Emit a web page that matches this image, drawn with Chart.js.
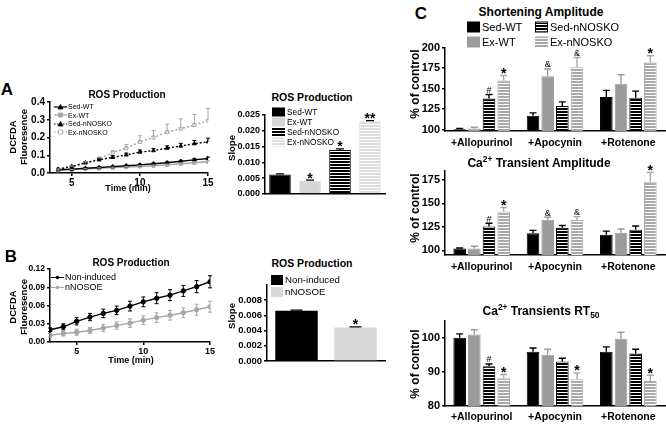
<!DOCTYPE html>
<html>
<head>
<meta charset="utf-8">
<script src="https://cdn.jsdelivr.net/npm/chart.js@4.4.0/dist/chart.umd.min.js"></script>
<style>
  html, body { margin: 0; overflow: hidden; }
  body { width: 666px; height: 428px; position: relative; background: #fff; color: #000;
         font-family: "Liberation Sans", Arial, Helvetica, sans-serif; }
  canvas { position: absolute; }
  .t { position: absolute; transform: translate(-50%, -50%); font-weight: bold; white-space: nowrap; line-height: 1; }
  .r { transform: translate(-50%, -50%) rotate(-90deg); text-align: center; }
  .lg { position: absolute; display: flex; align-items: center; transform: translateY(-50%); white-space: nowrap; line-height: 1; }
  .lg .box { display: inline-block; box-sizing: border-box; margin-right: 2px; }
  sup, sub { font-size: 0.7em; line-height: 0; }
</style>
</head>
<body>
<canvas id="lineA"></canvas>
<canvas id="barA"></canvas>
<canvas id="lineB"></canvas>
<canvas id="barB"></canvas>
<canvas id="shortC"></canvas>
<canvas id="ampC"></canvas>
<canvas id="rtC"></canvas>

<div class="t" style="left:7px;top:89px;font-size:17px">A</div>
<div class="t" style="left:11px;top:256px;font-size:17px">B</div>
<div class="t" style="left:421px;top:13px;font-size:17px">C</div>

<div class="t" style="left:127px;top:95px;font-size:10px">ROS Production</div>
<div class="t r" style="left:18px;top:137px;font-size:9.5px;line-height:11px">DCFDA<br>Fluoresence</div>
<div class="t" style="left:128px;top:188px;font-size:9px">Time (min)</div>

<div class="t" style="left:312px;top:97px;font-size:10.5px">ROS Production</div>
<div class="t r" style="left:232px;top:148px;font-size:9.5px">Slope</div>

<div class="t" style="left:131px;top:263px;font-size:10px">ROS Production</div>
<div class="t r" style="left:18px;top:307px;font-size:9.5px;line-height:11px">DCFDA<br>Fluoresence</div>
<div class="t" style="left:131px;top:360px;font-size:9px">Time (min)</div>

<div class="t" style="left:312px;top:263px;font-size:10.5px">ROS Production</div>
<div class="t r" style="left:232px;top:316px;font-size:9.5px">Slope</div>

<div class="t" style="left:541px;top:12px;font-size:12px">Shortening Amplitude</div>
<div class="t" style="left:539px;top:163px;font-size:12px">Ca<sup>2+</sup> Transient Amplitude</div>
<div class="t" style="left:541px;top:311px;font-size:12px">Ca<sup>2+</sup> Transients RT<sub>50</sub></div>
<div class="t r" style="left:415px;top:84px;font-size:12px">% of control</div>
<div class="t r" style="left:415px;top:208px;font-size:12px">% of control</div>
<div class="t r" style="left:415px;top:364px;font-size:12px">% of control</div>

<script>
// A: ROS production over time (DCFDA fluorescence), mean + SEM
const timeA = [4, 5, 6, 7, 8, 9, 10, 11, 12, 13, 14, 15];
const rosSedWT = [0.018, 0.022, 0.027, 0.031, 0.036, 0.041, 0.046, 0.052, 0.058, 0.066, 0.074, 0.082];
const rosSedWTErr = [0.002, 0.002, 0.003, 0.003, 0.004, 0.004, 0.005, 0.005, 0.006, 0.006, 0.007, 0.008];
const rosExWT = [0.015, 0.018, 0.022, 0.026, 0.030, 0.033, 0.037, 0.041, 0.046, 0.052, 0.058, 0.063];
const rosExWTErr = [0.002, 0.002, 0.002, 0.003, 0.003, 0.003, 0.004, 0.004, 0.004, 0.005, 0.005, 0.006];
const rosSedKO = [0.022, 0.037, 0.058, 0.074, 0.088, 0.102, 0.118, 0.126, 0.140, 0.152, 0.165, 0.176];
const rosSedKOErr = [0.003, 0.004, 0.006, 0.008, 0.010, 0.010, 0.012, 0.012, 0.013, 0.015, 0.018, 0.020];
const rosExKO = [0.020, 0.035, 0.055, 0.080, 0.115, 0.140, 0.175, 0.200, 0.230, 0.250, 0.270, 0.295];
const rosExKOErr = [0.003, 0.005, 0.008, 0.010, 0.012, 0.020, 0.035, 0.040, 0.045, 0.055, 0.060, 0.068];
const fluorTicksA = [0, 0.1, 0.2, 0.3, 0.4];
const timeTicks = [5, 10, 15];

// A: slopes
const groupNames = ["Sed-WT", "Ex-WT", "Sed-nNOSKO", "Ex-nNOSKO"];
const slopeA = [0.0062, 0.0042, 0.0139, 0.0230];
const slopeAErr = [0.0002, 0.0002, 0.0004, 0.0002];
const slopeAMarks = ["", "*", "*", "**"];
const slopeTicksA = [0, 0.005, 0.010, 0.015, 0.020, 0.025];

// B: nNOS overexpression
const timeB = [3, 4, 5, 6, 7, 8, 9, 10, 11, 12, 13, 14, 15];
const rosNonInduced = [0.020, 0.025, 0.034, 0.041, 0.047, 0.052, 0.059, 0.066, 0.072, 0.077, 0.084, 0.091, 0.099];
const rosNonInducedErr = [0.003, 0.005, 0.006, 0.006, 0.007, 0.007, 0.008, 0.008, 0.009, 0.009, 0.009, 0.010, 0.010];
const rosNNOSOE = [0.011, 0.014, 0.016, 0.019, 0.023, 0.027, 0.031, 0.036, 0.040, 0.044, 0.048, 0.053, 0.058];
const rosNNOSOEErr = [0.003, 0.004, 0.005, 0.005, 0.006, 0.006, 0.007, 0.007, 0.008, 0.008, 0.008, 0.009, 0.009];
const fluorTicksB = [0, 0.03, 0.06, 0.09, 0.12];
const lineNamesB = ["Non-induced", "nNOSOE"];
const slopeB = [0.0066, 0.0044];
const slopeBErr = [0.0001, 0.0001];
const slopeBMarks = ["", "*"];
const slopeTicksB = [0, 0.002, 0.004, 0.006, 0.008];

// C: % of control per treatment
const treatments = ["+Allopurinol", "+Apocynin", "+Rotenone"];
const shortSedWT = [100.5, 117, 140];
const shortSedWTErr = [1, 3.5, 8];
const shortExWT = [101.5, 165, 156];
const shortExWTErr = [1.5, 9, 11];
const shortSedKO = [138, 129, 139];
const shortSedKOErr = [5, 5, 8];
const shortExKO = [160, 176, 182];
const shortExKOErr = [6, 12, 8];
const shortMarks = [["", "", ""], ["", "&", ""], ["#", "", ""], ["*", "&", "*"]];
const shortTicks = [100, 125, 150, 175, 200];

const ampSedWT = [101.8, 118.3, 116.5];
const ampSedWTErr = [0.6, 3, 4];
const ampExWT = [101.8, 132.7, 118.7];
const ampExWTErr = [2.5, 2.5, 4];
const ampSedKO = [125.4, 124, 122];
const ampSedKOErr = [3.5, 2.5, 4];
const ampExKO = [141.5, 132.4, 173];
const ampExKOErr = [4, 3.5, 10];
const ampMarks = [["", "", ""], ["", "&", ""], ["#", "", ""], ["*", "&", "*"]];
const ampTicks = [100, 125, 150, 175];

const rtSedWT = [100, 95.9, 95.9];
const rtSedWTErr = [1.1, 1.1, 1.4];
const rtExWT = [100.9, 95, 99.7];
const rtExWTErr = [1.4, 1.6, 1.9];
const rtSedKO = [91.6, 93, 95.4];
const rtSedKOErr = [0.7, 1, 1.2];
const rtExKO = [88.1, 87.8, 87.3];
const rtExKOErr = [1.1, 1.9, 1.7];
const rtMarks = [["", "", ""], ["", "", ""], ["#", "", ""], ["*", "*", "*"]];
const rtTicks = [80, 90, 100];

// ---- setup ----
const FAMILY = '"Liberation Sans", Arial, Helvetica, sans-serif';
Chart.defaults.font.family = FAMILY;
Chart.defaults.color = "#000";
Chart.defaults.animation = false;
Chart.defaults.plugins.legend.display = false;
Chart.defaults.plugins.tooltip.enabled = false;

const font = (size, bold = true) => ({ family: FAMILY, size, weight: bold ? "bold" : "normal" });

function stripes(bg, line) {
  const c = document.createElement("canvas");
  c.width = 4;
  c.height = 3;
  const g = c.getContext("2d");
  g.fillStyle = bg;
  g.fillRect(0, 0, 4, 3);
  g.fillStyle = line;
  g.fillRect(0, 2, 4, 1);
  return g.createPattern(c, "repeat");
}

// error bars (and significance marks) drawn on top of bars / points
const errorBars = {
  id: "errorBars",
  afterDatasetsDraw(chart) {
    const ctx = chart.ctx;
    const y = chart.scales.y;
    chart.data.datasets.forEach((ds, i) => {
      if (!ds.err) return;
      const meta = chart.getDatasetMeta(i);
      ctx.save();
      ctx.lineWidth = ds.errWidth || 1.2;
      meta.data.forEach((el, j) => {
        const v = meta.controller.getParsed(j).y;
        const top = y.getPixelForValue(v + ds.err[j]);
        const bot = ds.errBoth ? y.getPixelForValue(v - ds.err[j]) : el.y;
        const cap = ds.cap || 2.5;
        ctx.strokeStyle = Array.isArray(ds.errColor) ? ds.errColor[j] : ds.errColor || "#000";
        ctx.beginPath();
        ctx.moveTo(el.x, bot);
        ctx.lineTo(el.x, top);
        ctx.moveTo(el.x - cap, top);
        ctx.lineTo(el.x + cap, top);
        if (ds.errBoth) {
          ctx.moveTo(el.x - cap, bot);
          ctx.lineTo(el.x + cap, bot);
        }
        ctx.stroke();
        const m = ds.marks && ds.marks[j];
        if (m) {
          const star = m.includes("*");
          ctx.fillStyle = "#000";
          ctx.textAlign = "center";
          ctx.textBaseline = "alphabetic";
          ctx.font = star ? "bold 14px " + FAMILY : "9px " + FAMILY;
          ctx.fillText(m, el.x, star ? top + 2.5 : top - 1.5);
        }
      });
      ctx.restore();
    });
  },
};

function yAxis(min, max, ticks, digits, size, width) {
  return {
    type: "linear",
    min,
    max,
    afterBuildTicks: (s) => { s.ticks = ticks.map((v) => ({ value: v })); },
    afterFit: (s) => { s.width = width; },
    border: { color: "#000", width: 1.5 },
    grid: { drawOnChartArea: false, tickLength: 3, color: "#000", lineWidth: 1.5 },
    ticks: { font: font(size), padding: 2, callback: (v) => v.toFixed(digits) },
  };
}

function xTime(min, max, size, height) {
  return {
    type: "linear",
    min,
    max,
    afterBuildTicks: (s) => { s.ticks = timeTicks.map((v) => ({ value: v })); },
    afterFit: (s) => { s.height = height; },
    border: { color: "#000", width: 1.5 },
    grid: { drawOnChartArea: false, tickLength: 3, color: "#000", lineWidth: 1.5 },
    ticks: { font: font(size), padding: 1, maxRotation: 0 },
  };
}

function xCat(show, size, height, pad) {
  return {
    type: "category",
    afterFit: (s) => { s.height = height; },
    border: { color: "#000", width: 1.5 },
    grid: { drawOnChartArea: false, drawTicks: false, color: "#000" },
    ticks: { display: show, font: font(size), padding: pad, maxRotation: 0, autoSkip: false },
  };
}

// box = plot area in page pixels
function makeChart(id, box, yw, xh, type, data, scales) {
  const c = document.getElementById(id);
  const pt = 8, pr = 8;
  c.width = box.r - box.l + yw + pr;
  c.height = box.b - box.t + pt + xh;
  c.style.left = box.l - yw + "px";
  c.style.top = box.t - pt + "px";
  return new Chart(c, {
    type,
    data,
    options: {
      responsive: false,
      devicePixelRatio: 1,
      layout: { padding: { left: 0, top: pt, right: pr, bottom: 0 } },
      scales,
    },
    plugins: [errorBars],
  });
}

function lineSet(label, xs, ys, err, color, style, fill, dashed, both) {
  return {
    label,
    data: xs.map((x, i) => ({ x, y: ys[i] })),
    err,
    errColor: color,
    errBoth: both,
    errWidth: 1,
    cap: 2,
    borderColor: color,
    borderWidth: 1.4,
    borderDash: dashed ? [2, 2] : [],
    pointStyle: style,
    pointRadius: 2.2,
    pointBackgroundColor: fill,
    pointBorderColor: color,
    pointBorderWidth: 1,
    tension: 0,
  };
}

// ---- legends ----
function lineKey(color, dashed, shape, fill) {
  let mark = "";
  if (shape === "triangle") mark = `<polygon points="4,6 9,6 6.5,1.5" fill="${fill}" stroke="${color}" stroke-width="0.8"/>`;
  if (shape === "rect") mark = `<rect x="4.5" y="2" width="4" height="4" fill="${fill}" stroke="${color}" stroke-width="0.8"/>`;
  if (shape === "circle") mark = `<circle cx="6.5" cy="4" r="1.3" fill="${fill}" stroke="${color}"/>`;
  return `<svg width="13" height="8" style="margin-right:1px"><line x1="0" y1="4" x2="13" y2="4" stroke="${color}" stroke-width="1.2"${dashed ? ' stroke-dasharray="1.5,1.5"' : ""}/>${mark}</svg>`;
}

function addLegend(items, x, y0, dy, size) {
  items.forEach((it, i) => {
    const d = document.createElement("div");
    d.className = "lg";
    d.style.left = x + "px";
    d.style.top = y0 + i * dy + "px";
    d.style.fontSize = size + "px";
    d.innerHTML = it.key + "<span>" + it.name + "</span>";
    document.body.appendChild(d);
  });
}

const boxKey = (bg, w, h, border) =>
  `<span class="box" style="width:${w}px;height:${h}px;background:${bg};${border ? "border:1px solid " + border : ""}"></span>`;
const stripeCss = (c) => `repeating-linear-gradient(to bottom, ${c} 0 2px, #fff 2px 3px)`;

// ---- A: time course ----
const gray = "#a6a6a6";
makeChart("lineA", { l: 50, t: 102, r: 208, b: 173 }, 34, 16, "line", {
  datasets: [
    lineSet(groupNames[0], timeA, rosSedWT, rosSedWTErr, "#000", "triangle", "#000", false),
    lineSet(groupNames[1], timeA, rosExWT, rosExWTErr, gray, "rect", gray, false),
    lineSet(groupNames[2], timeA, rosSedKO, rosSedKOErr, "#000", "triangle", "#000", true),
    lineSet(groupNames[3], timeA, rosExKO, rosExKOErr, gray, "rect", "#fff", true),
  ],
}, { x: xTime(3.4, 15, 10, 16), y: yAxis(0, 0.4, fluorTicksA, 1, 10, 34) });

addLegend([
  { name: groupNames[0], key: lineKey("#000", false, "triangle", "#000") },
  { name: groupNames[1], key: lineKey(gray, false, "rect", gray) },
  { name: groupNames[2], key: lineKey("#000", true, "triangle", "#000") },
  { name: groupNames[3], key: lineKey(gray, true, "rect", "#fff") },
], 54, 106.5, 8.5, 7);

// ---- A: slopes ----
const slopeColorsA = ["#000", "#d6d6d6", stripes("#000", "#fff"), stripes("#dcdcdc", "#fff")];
makeChart("barA", { l: 265, t: 115, r: 385, b: 194 }, 34, 10, "bar", {
  labels: groupNames,
  datasets: [{
    data: slopeA,
    err: slopeAErr,
    marks: slopeAMarks,
    errColor: "#000",
    cap: 4,
    backgroundColor: slopeColorsA,
    borderColor: ["#000", "#d6d6d6", "#000", "#dcdcdc"],
    borderWidth: 1,
    barPercentage: 0.72,
    categoryPercentage: 1,
  }],
}, { x: xCat(false, 9, 10, 2), y: yAxis(0, 0.025, slopeTicksA, 3, 9, 34) });

addLegend([
  { name: groupNames[0], key: boxKey("#000", 13, 9) },
  { name: groupNames[1], key: boxKey("#d6d6d6", 13, 9) },
  { name: groupNames[2], key: boxKey(stripeCss("#000"), 13, 9) },
  { name: groupNames[3], key: boxKey(stripeCss("#dcdcdc"), 13, 9) },
], 272, 112, 10, 8.3);

// ---- B: time course ----
makeChart("lineB", { l: 50, t: 269, r: 210, b: 342 }, 34, 16, "line", {
  datasets: [
    lineSet(lineNamesB[0], timeB, rosNonInduced, rosNonInducedErr, "#000", "circle", "#000", false, true),
    lineSet(lineNamesB[1], timeB, rosNNOSOE, rosNNOSOEErr, gray, "circle", gray, false, true),
  ],
}, { x: xTime(3, 15, 9, 16), y: yAxis(0, 0.12, fluorTicksB, 2, 8.5, 34) });

addLegend([
  { name: lineNamesB[0], key: lineKey("#000", false, "circle", "#000") },
  { name: lineNamesB[1], key: lineKey(gray, false, "circle", gray) },
], 51, 277, 10, 9);

// ---- B: slopes ----
makeChart("barB", { l: 267, t: 285, r: 385, b: 361 }, 36, 10, "bar", {
  labels: lineNamesB,
  datasets: [{
    data: slopeB,
    err: slopeBErr,
    marks: slopeBMarks,
    errColor: "#000",
    cap: 6,
    backgroundColor: ["#000", "#d9d9d9"],
    barPercentage: 0.72,
    categoryPercentage: 1,
  }],
}, { x: xCat(false, 9, 10, 2), y: yAxis(0, 0.01, slopeTicksB, 3, 9.5, 36) });

addLegend([
  { name: lineNamesB[0], key: boxKey("#000", 12, 10) },
  { name: lineNamesB[1], key: boxKey("#d9d9d9", 12, 10) },
], 271, 280, 12, 9.7);

// ---- C: grouped bars ----
const exGray = "#9b9b9b";
const koLight = "#a9a9a9";
function groupedSets(vals, errs, marks) {
  const fills = ["#000", exGray, stripes("#000", "#fff"), stripes(koLight, "#fff")];
  const borders = ["#000", exGray, "#000", koLight];
  const errCols = ["#000", exGray, "#000", koLight];
  return vals.map((v, i) => ({
    label: groupNames[i],
    data: v,
    err: errs[i],
    marks: marks[i],
    errColor: errCols[i],
    errWidth: 1.4,
    cap: 3.5,
    backgroundColor: fills[i],
    borderColor: borders[i],
    borderWidth: 1,
    barPercentage: 0.86,
    categoryPercentage: 0.8,
  }));
}

makeChart("shortC", { l: 445, t: 47, r: 665, b: 131 }, 30, 20, "bar", {
  labels: treatments,
  datasets: groupedSets(
    [shortSedWT, shortExWT, shortSedKO, shortExKO],
    [shortSedWTErr, shortExWTErr, shortSedKOErr, shortExKOErr],
    shortMarks),
}, { x: xCat(true, 10.5, 20, 6), y: yAxis(98.5, 200, shortTicks, 0, 11, 30) });

makeChart("ampC", { l: 445, t: 170, r: 665, b: 255 }, 30, 20, "bar", {
  labels: treatments,
  datasets: groupedSets(
    [ampSedWT, ampExWT, ampSedKO, ampExKO],
    [ampSedWTErr, ampExWTErr, ampSedKOErr, ampExKOErr],
    ampMarks),
}, { x: xCat(true, 10.5, 20, 6), y: yAxis(95, 185, ampTicks, 0, 11, 30) });

makeChart("rtC", { l: 445, t: 320, r: 665, b: 406 }, 30, 20, "bar", {
  labels: treatments,
  datasets: groupedSets(
    [rtSedWT, rtExWT, rtSedKO, rtExKO],
    [rtSedWTErr, rtExWTErr, rtSedKOErr, rtExKOErr],
    rtMarks),
}, { x: xCat(true, 10.5, 20, 5), y: yAxis(80, 105, rtTicks, 0, 11, 30) });

// two-column legend for panel C
const legendC = [
  { name: groupNames[0], key: boxKey("#000", 13, 11) },
  { name: groupNames[2], key: boxKey(stripeCss("#000"), 13, 11, "#000") },
  { name: groupNames[1], key: boxKey(exGray, 13, 11) },
  { name: groupNames[3], key: boxKey(stripeCss(koLight), 13, 11) },
];
addLegend([legendC[0], legendC[2]], 467, 27, 15, 11);
addLegend([legendC[1], legendC[3]], 535, 27, 15, 11);
</script>
</body>
</html>
